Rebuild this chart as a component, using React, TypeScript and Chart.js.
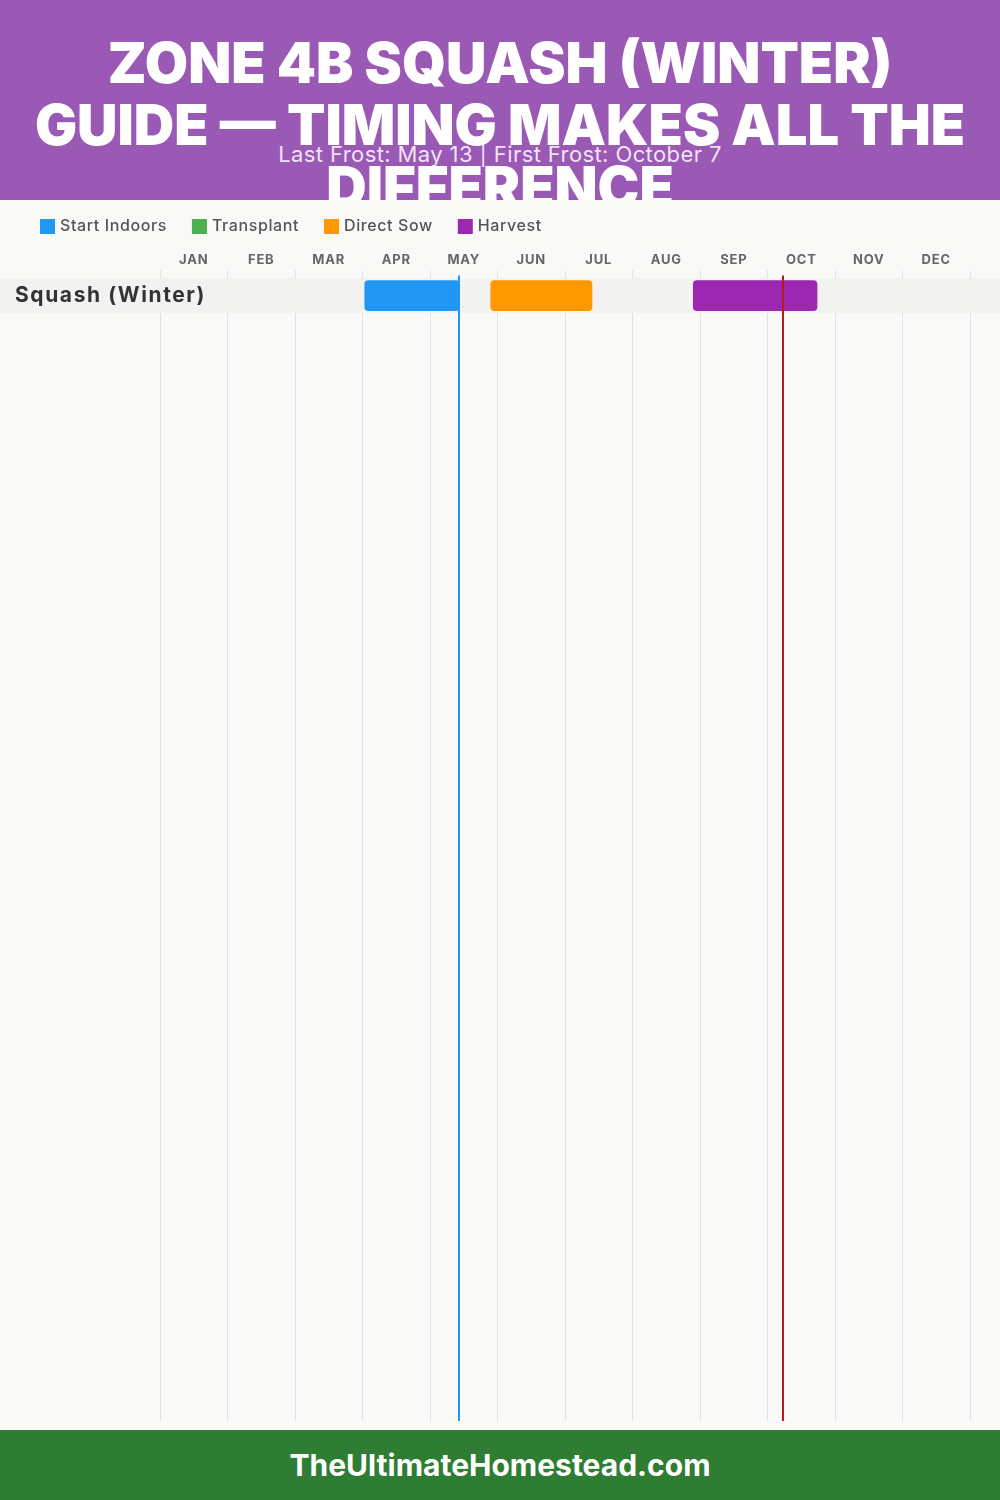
import React, { useEffect, useRef } from "react";
import { Chart, registerables } from "chart.js";

Chart.register(...registerables);

const FONT = "Inter, 'Open Sans', sans-serif";

const MONTHS = ["JAN", "FEB", "MAR", "APR", "MAY", "JUN", "JUL", "AUG", "SEP", "OCT", "NOV", "DEC"];
const CROPS = ["Squash (Winter)"];
const PHASE_LABELS = ["Start Indoors", "Transplant", "Direct Sow", "Harvest"];
const PHASE_COLORS = ["#2196F3", "#4CAF50", "#FF9800", "#9C27B0"];

// [cropIndex, startMonth, startDay, endMonth, endDay]
const START_INDOORS = [[0, 4, 1, 5, 13]];
const TRANSPLANT: number[][] = [];
const DIRECT_SOW = [[0, 5, 27, 7, 12]];
const HARVEST = [[0, 8, 27, 10, 22]];

const LAST_FROST = [5, 13];
const FIRST_FROST = [10, 7];

const TITLE_LINES = ["ZONE 4B SQUASH (WINTER)", "GUIDE — TIMING MAKES ALL THE", "DIFFERENCE"];
const SUBTITLE = "Last Frost: May 13 | First Frost: October 7";
const FOOTER = "TheUltimateHomestead.com";

const toX = (m: number, d: number) => m - 1 + d / 30;

const PHASES = [START_INDOORS, TRANSPLANT, DIRECT_SOW, HARVEST];

// letter spacing for the axis text (month labels drawn before datasets, crop labels after)
const spacingPlugin = {
  id: "spacing",
  beforeDraw(chart: any) {
    chart.ctx.letterSpacing = "0.8px";
  },
  beforeDatasetsDraw(chart: any) {
    chart.ctx.letterSpacing = "0px";
  },
  afterDatasetsDraw(chart: any) {
    chart.ctx.letterSpacing = "1.6px";
  },
  afterDraw(chart: any) {
    chart.ctx.letterSpacing = "0px";
  },
};

const rowBandPlugin = {
  id: "rowBand",
  beforeDatasetsDraw(chart: any) {
    const { ctx, scales } = chart;
    const y = scales.y;
    ctx.save();
    ctx.fillStyle = "#f2f2f1";
    CROPS.forEach((_, i) => {
      const py = y.getPixelForValue(i);
      ctx.fillRect(0, py - 17.5, chart.width, 35);
    });
    ctx.restore();
  },
};

const frostPlugin = {
  id: "frostLines",
  afterDatasetsDraw(chart: any) {
    const { ctx, scales, chartArea } = chart;
    const x = scales.x;
    const lines: [number[], string][] = [
      [LAST_FROST, "#2196F3"],
      [FIRST_FROST, "#B71C1C"],
    ];
    ctx.save();
    lines.forEach(([d, c]) => {
      const px = Math.round(x.getPixelForValue(toX(d[0], d[1])));
      ctx.strokeStyle = c;
      ctx.lineWidth = 2;
      ctx.beginPath();
      ctx.moveTo(px, chartArea.top + 5);
      ctx.lineTo(px, chartArea.bottom);
      ctx.stroke();
    });
    ctx.restore();
  },
};

const legendPlugin = {
  id: "customLegend",
  afterDraw(chart: any) {
    const { ctx } = chart;
    ctx.save();
    ctx.font = `500 16px ${FONT}`;
    (ctx as any).letterSpacing = "0.6px";
    ctx.textBaseline = "middle";
    let cx = 40;
    const cy = 26.5;
    chart.data.datasets.forEach((ds: any) => {
      ctx.fillStyle = ds.backgroundColor;
      ctx.fillRect(cx, cy - 7.5, 15, 15);
      ctx.fillStyle = "#555";
      ctx.fillText(ds.label, cx + 20, cy);
      cx += 20 + ctx.measureText(ds.label).width + 25;
    });
    ctx.restore();
  },
};

function GardenChart() {
  const ref = useRef<HTMLCanvasElement>(null);
  useEffect(() => {
    if (!ref.current) return;
    const datasets = PHASE_LABELS.map((label, i) => ({
      label,
      data: PHASES[i].map((r) => ({ y: r[0], x: [toX(r[1], r[2]), toX(r[3], r[4])] })),
      backgroundColor: PHASE_COLORS[i],
      borderRadius: 4,
      borderSkipped: false,
      barThickness: 30,
    }));
    const chart = new Chart(ref.current, {
      type: "bar",
      data: { datasets } as any,
      plugins: [spacingPlugin, rowBandPlugin, frostPlugin, legendPlugin],
      options: {
        indexAxis: "y",
        animation: false,
        responsive: false,
        maintainAspectRatio: false,
        layout: { padding: { top: 49, left: 15, right: 30, bottom: 9 } },
        plugins: { legend: { display: false }, tooltip: { enabled: false } },
        scales: {
          x: {
            type: "linear",
            position: "bottom",
            min: 0,
            max: 12,
            stacked: false,
            ticks: { display: false, stepSize: 1 },
            grid: { color: "#e2e2e2", drawTicks: false, lineWidth: 1 },
            border: { display: false },
          },
          x2: {
            type: "category",
            labels: MONTHS,
            position: "top",
            offset: true,
            grid: { display: false, drawTicks: false },
            border: { display: false },
            ticks: {
              font: { family: FONT, weight: "bold", size: 13 },
              color: "#666",
              padding: 3,
              maxRotation: 0,
              autoSkip: false,
            },
          },
          y: {
            type: "linear",
            reverse: true,
            stacked: true,
            offset: false,
            min: -0.714,
            max: 32.17,
            afterFit: (s: any) => {
              s.width = 145;
              s.paddingTop = 0;
              s.paddingBottom = 0;
            },
            afterBuildTicks: (s: any) => {
              s.ticks = CROPS.map((_, i) => ({ value: i }));
            },
            ticks: {
              z: 1,
              mirror: true,
              padding: -145,
              crossAlign: "near",
              autoSkip: false,
              callback: (v: any) => CROPS[v] ?? "",
              font: { family: FONT, weight: "bold", size: 21 },
              color: "#333",
            },
            grid: { display: false, offset: false },
            border: { display: false },
          },
        },
      } as any,
    });
    return () => chart.destroy();
  }, []);
  return <canvas ref={ref} width={1000} height={1230} style={{ display: "block" }} />;
}

export default function App() {
  useEffect(() => {
    document.body.style.margin = "0";
  }, []);
  return (
    <div style={{ position: "relative", width: 1000, height: 1500, background: "#f9f9f8", fontFamily: FONT, overflow: "hidden" }}>
      <div style={{ position: "absolute", top: 0, left: 0, width: 1000, height: 200, background: "#9B59B6", overflow: "hidden", zIndex: 2 }}>
        <div style={{ position: "absolute", top: 32, left: 0, width: 1000, textAlign: "center", color: "#fff", fontWeight: 900, fontSize: 56, lineHeight: "62px" }}>
          {TITLE_LINES.map((t) => (
            <div key={t}>{t}</div>
          ))}
        </div>
        <div style={{ position: "absolute", top: 142, left: 0, width: 1000, textAlign: "center", color: "rgba(255,255,255,0.85)", fontSize: 22, lineHeight: "24px", letterSpacing: 0.4 }}>
          {SUBTITLE}
        </div>
      </div>
      <div style={{ position: "absolute", top: 200, left: 0, width: 1000, height: 1230 }}>
        <GardenChart />
      </div>
      <div style={{ position: "absolute", top: 1430, left: 0, width: 1000, height: 70, background: "#2E7D32", color: "#fff", textAlign: "center", lineHeight: "70px", fontSize: 30, fontWeight: 700 }}>
        {FOOTER}
      </div>
    </div>
  );
}
